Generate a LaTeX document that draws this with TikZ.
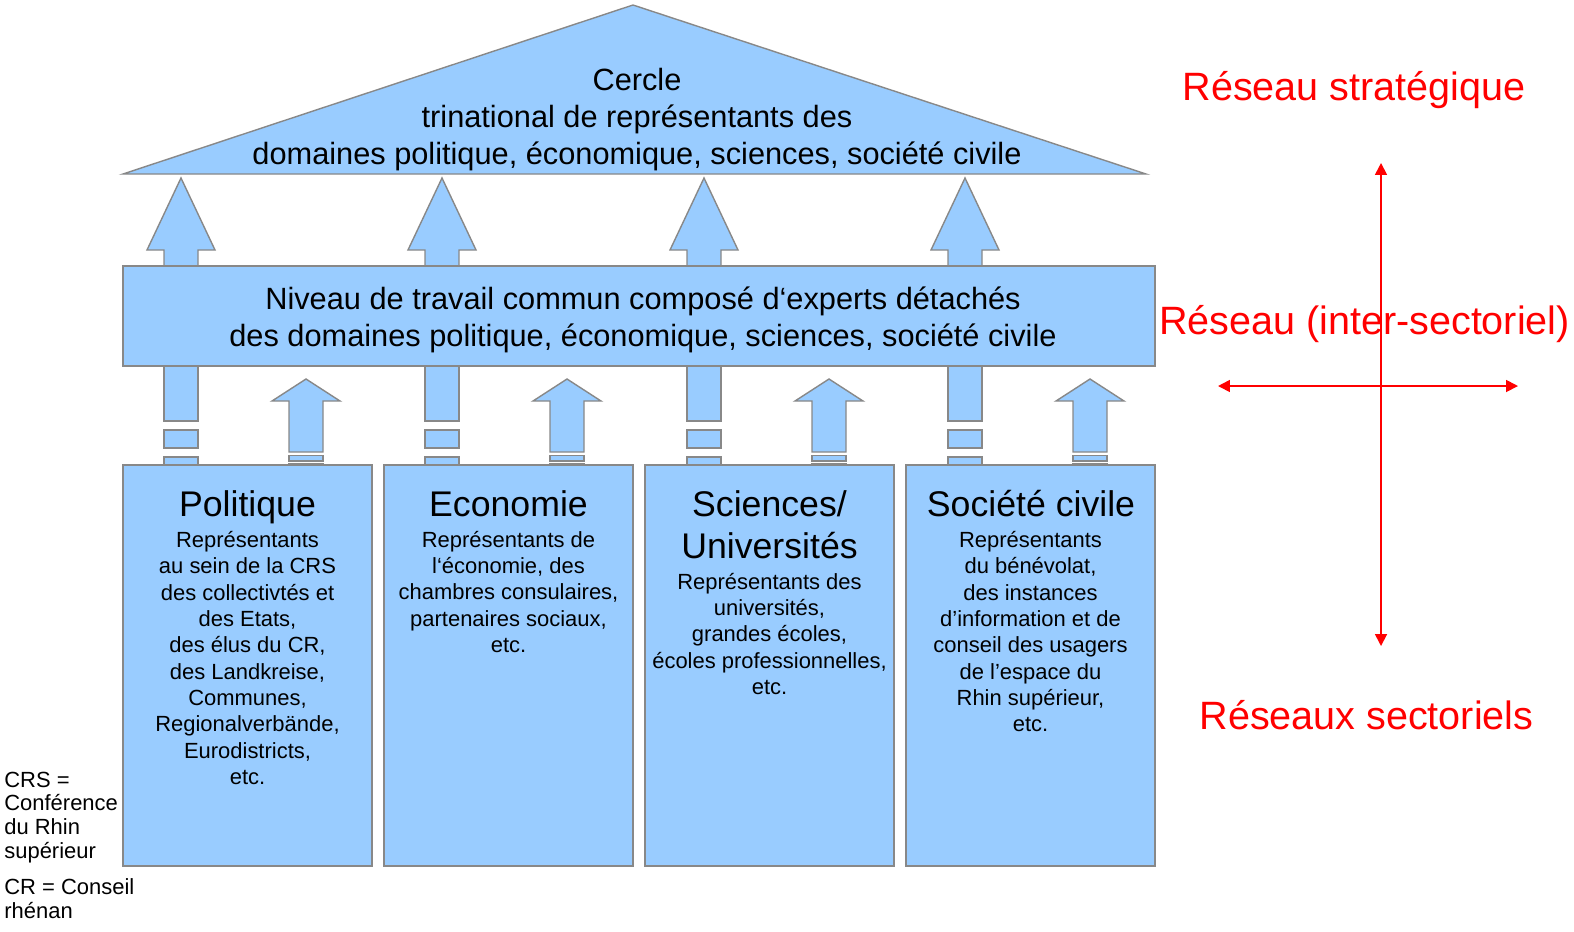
\documentclass[tikz,border=0pt]{standalone}
\usepackage{fontspec}
\setmainfont{Liberation Sans}
\usetikzlibrary{arrows.meta}
\definecolor{bleu}{HTML}{99CCFF}
\definecolor{gris}{HTML}{888888}
\definecolor{rouge}{HTML}{FF0000}

\begin{document}
\begin{tikzpicture}[x=0.02cm,y=-0.02cm,
	bloc/.style={fill=bleu,draw=gris,line width=0.8pt},
	grand/.style={align=center,font=\fontsize{17.5}{21}\selectfont},
	titre/.style={align=center,font=\fontsize{20.3}{23.8}\selectfont},
	petit/.style={align=center,font=\fontsize{12.5}{15}\selectfont},
	reseau/.style={text=rouge,font=\fontsize{22.5}{26}\selectfont},
	fleche/.style={rouge,line width=1pt,{Triangle[length=6.8pt,width=6.8pt]}-{Triangle[length=6.8pt,width=6.8pt]}}]
			\useasboundingbox (0,0) rectangle (1574,931);
			
			% fleches
			\foreach \c in {181,442,704,965}{
				\draw[bloc] (\c,178) -- (\c+34,250) -- (\c+17,250) -- (\c+17,266) -- (\c-17,266) -- (\c-17,250) -- (\c-34,250) -- cycle;
				\draw[bloc] (\c-17,366) rectangle (\c+17,421);
				\draw[bloc] (\c-17,430) rectangle (\c+17,448);
				\draw[bloc] (\c-17,457) rectangle (\c+17,465);
				\draw[bloc] (\c+125,379) -- (\c+159,401) -- (\c+142,401) -- (\c+142,452) -- (\c+108,452) -- (\c+108,401) -- (\c+91,401) -- cycle;
				\draw[bloc] (\c+108,455.5) rectangle (\c+142,461);
				\draw[bloc] (\c+108,463.5) rectangle (\c+142,466);
			}
			
			\draw[bloc] (633,5) -- (1146,174) -- (123,174) -- cycle;
			\node[grand,anchor=base] (cercle) at (637,164) {Cercle\\trinational de représentants des\\domaines politique, économique, sciences, société civile};
			
			\node[bloc,minimum width=20.64cm,minimum height=2cm] (niveau) at (639,316) {};
			\node[grand,anchor=base] (niveautxt) at (643,346) {Niveau de travail commun composé d‘experts détachés\\des domaines politique, économique, sciences, société civile};
			
			\node[bloc,minimum width=4.98cm,minimum height=8.02cm] (politique) at (247.5,665.5) {};
			\node[bloc,minimum width=4.98cm,minimum height=8.02cm] (economie) at (508.5,665.5) {};
			\node[bloc,minimum width=4.98cm,minimum height=8.02cm] (sciences) at (769.5,665.5) {};
			\node[bloc,minimum width=4.98cm,minimum height=8.02cm] (societe) at (1030.5,665.5) {};
			
			\node[titre,anchor=base] (politiquetit) at (247.5,516.5) {Politique};
			\node[titre,anchor=base] (economietit) at (508.5,516.5) {Economie};
			\node[titre,anchor=base] (sciencestit) at (769.5,558.5) {Sciences/\\Universités};
			\node[titre,anchor=base] (societetit) at (1031,516.5) {Société civile};
			
			\node[petit,anchor=base] (politiquetxt) at (247.5,784.6) {Représentants\\au sein de la CRS\\des collectivtés et\\des Etats,\\des élus du CR,\\des Landkreise,\\Communes,\\Regionalverbände,\\Eurodistricts,\\etc.};
			\node[petit,anchor=base] (economietxt) at (508.5,652.6) {Représentants de\\l‘économie, des\\chambres consulaires,\\partenaires sociaux,\\etc.};
			\node[petit,anchor=base] (sciencestxt) at (769.5,694.6) {Représentants des\\universités,\\grandes écoles,\\écoles professionnelles,\\etc.};
			\node[petit,anchor=base] (societetxt) at (1030.5,731.8) {Représentants\\du bénévolat,\\des instances\\d’information et de\\conseil des usagers\\de l’espace du\\Rhin supérieur,\\etc.};
			
			\node[petit,align=left,anchor=base west,inner sep=0pt,font=\fontsize{12.5}{13.5}\selectfont] (crs) at (4,858.3) {CRS =\\Conférence\\du Rhin\\supérieur};
			\node[petit,align=left,anchor=base west,inner sep=0pt,font=\fontsize{12.5}{13.5}\selectfont] (cr) at (4,918) {CR = Conseil\\rhénan};
			
			\node[reseau,anchor=base] (strat) at (1354,100) {Réseau stratégique};
			\node[reseau,anchor=base] (inter) at (1364.5,334) {Réseau (inter-sectoriel)};
			\node[reseau,anchor=base] (sect) at (1366.5,729) {Réseaux sectoriels};
			
			\coordinate (haut) at (1381,163);
			\coordinate (bas) at (1381,646);
			\coordinate (gauche) at (1218,386);
			\coordinate (droite) at (1518,386);
			\path [fleche] (haut) edge (bas);
			\path [fleche] (gauche) edge (droite);
			\end{tikzpicture}
\end{document}
